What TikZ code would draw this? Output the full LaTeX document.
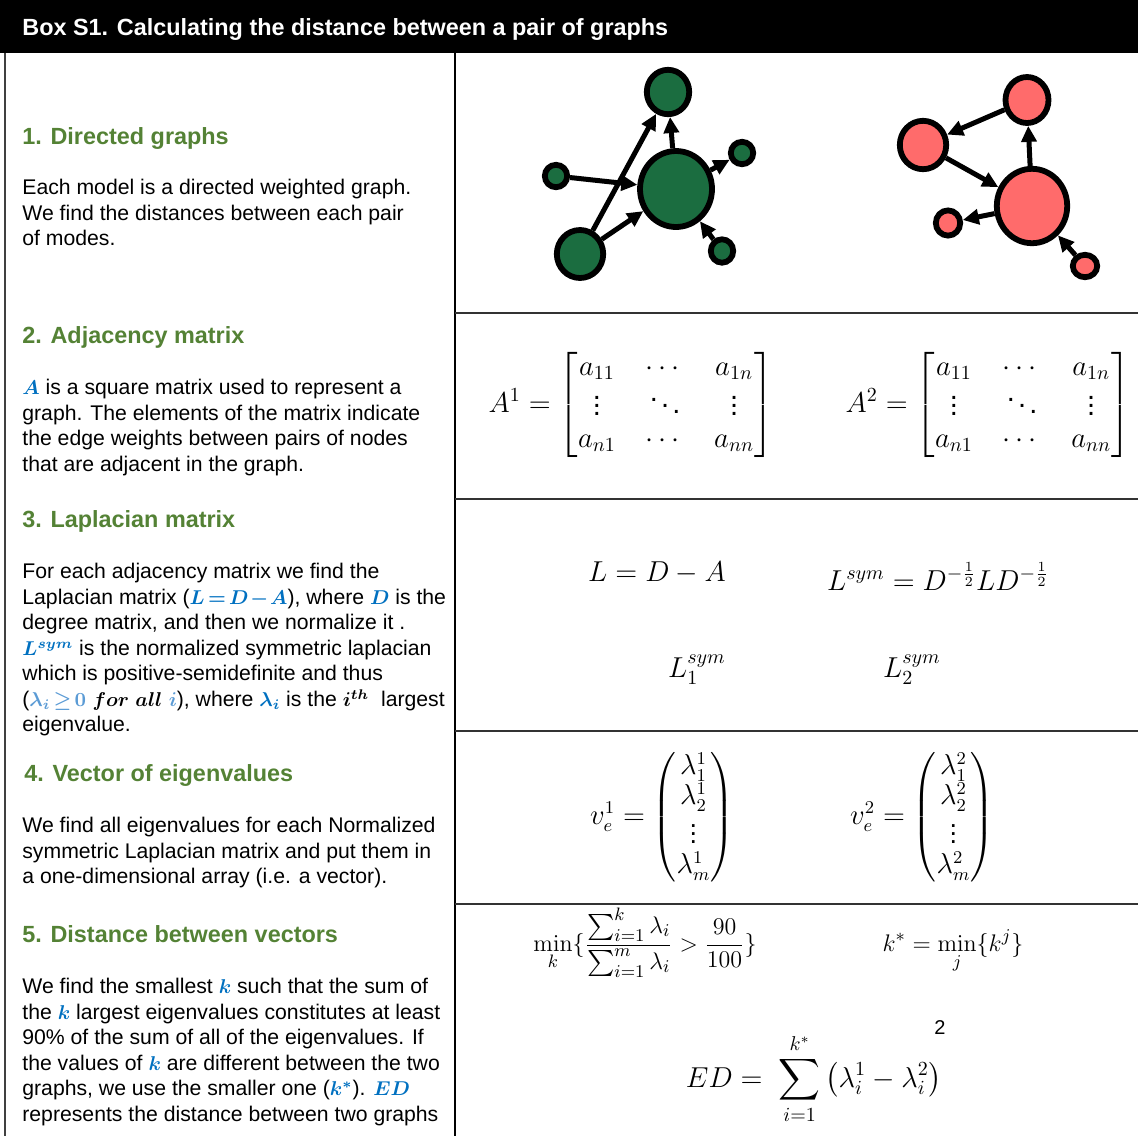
\documentclass[tikz,border=0pt]{standalone}
\usepackage{amsmath,amssymb}
\usepackage[no-math]{fontspec}
\setmainfont{Liberation Sans}
\usepackage{tikz}
\usetikzlibrary{arrows.meta,shapes.geometric}
\definecolor{headcolor}{RGB}{84,130,53}
\definecolor{mathblue}{RGB}{0,112,192}
\definecolor{lightblue}{RGB}{91,155,213}
\definecolor{greennode}{RGB}{27,109,64}
\definecolor{rednode}{RGB}{255,107,107}
\newcommand{\inmath}{\fontsize{9.6}{12}\selectfont\thickmuskip=2.5mu\medmuskip=1.5mu}
\newcommand{\hl}[1]{{\inmath\color{mathblue}$\boldsymbol{#1}$}}

\begin{document}
\begin{tikzpicture}[x=0.5pt, y=-0.5pt,
    head/.style={anchor=base west, inner sep=0pt, font=\fontsize{11.7}{14}\selectfont\bfseries, text=headcolor},
    body/.style={anchor=north west, inner sep=0pt, align=left, font=\fontsize{10.6}{12.75}\selectfont},
    eq/.style={inner sep=0pt, font=\fontsize{14.5}{15.6}\selectfont},
    eqs/.style={inner sep=0pt, font=\fontsize{13}{15.6}\selectfont},
    dims/.style 2 args={minimum width=#1pt, minimum height=#2pt},
    gnode/.style={ellipse, draw=black, line width=2.9pt, fill=greennode, inner sep=0pt},
    rnode/.style={gnode, fill=rednode},
    edge/.style={line width=2.5pt, -{Triangle[length=8pt,width=7.5pt]}},
    rule/.style={line width=1pt, draw=black!80}
  ]
  \useasboundingbox (0,0) rectangle (1138,1136);

  % title bar and frame
  \fill[black] (0,0) rectangle (1138,53);
  \node[anchor=base west, inner sep=0pt, text=white, font=\fontsize{11.7}{14}\selectfont\bfseries] (title) at (22,35)
    {Box S1. Calculating the distance between a pair of graphs};
  \draw[line width=0.8pt, black!75] (5,53) -- (5,1136);
  \draw[line width=1pt] (455,53) -- (455,1136);
  \foreach \y in {313,499,731,904}
    \draw[rule] (455,\y) -- (1138,\y);

  % left column
  \node[head] (h1) at (22,144) {1. Directed graphs};
  \node[body] (t1) at (22,179) {Each model is a directed weighted graph.\\
    We find the distances between each pair\\
    of modes.};

  \node[head] (h2) at (22,343) {2. Adjacency matrix};
  \node[body] (t2) at (22,379) {\hl{A} is a square matrix used to represent a\\
    graph. The elements of the matrix indicate\\
    the edge weights between pairs of nodes\\
    that are adjacent in the graph.};

  \node[head] (h3) at (22,527) {3. Laplacian matrix};
  \node[body] (t3) at (22,563) {For each adjacency matrix we find the\\
    Laplacian matrix (\hl{L=D-A}), where \hl{D} is the\\
    degree matrix, and then we normalize it .\\
    \hl{L^{sym}} is the normalized symmetric laplacian\\
    which is positive-semidefinite and thus\\
    ({\inmath$\boldsymbol{{\color{lightblue}\lambda_i \geq 0}\mskip5mu for\mskip5mu all\mskip5mu{\color{lightblue}i}}$}), where \hl{\lambda_i} is the {\inmath$\boldsymbol{i^{th}}$}\ \ largest\\
    eigenvalue.};

  \node[head] (h4) at (24,781) {4. Vector of eigenvalues};
  \node[body] (t4) at (22,817) {We find all eigenvalues for each Normalized\\
    symmetric Laplacian matrix and put them in\\
    a one-dimensional array (i.e. a vector).};

  \node[head] (h5) at (22,942) {5. Distance between vectors};
  \node[body] (t5) at (22,978) {We find the smallest \hl{k} such that the sum of\\
    the \hl{k} largest eigenvalues constitutes at least\\
    90\% of the sum of all of the eigenvalues. If\\
    the values of \hl{k} are different between the two\\
    graphs, we use the smaller one (\hl{k^*}). \hl{ED}\\
    represents the distance between two graphs};

  % graph 1
  \node[gnode, dims={21.2}{22.2}] (gtop) at (668,92) {};
  \node[gnode, dims={36}{38}] (gbig) at (676,189) {};
  \node[gnode, dims={11.2}{11.2}] (gleft) at (556,176) {};
  \node[gnode, dims={11.2}{11.2}] (gright) at (742,153) {};
  \node[gnode, dims={23.2}{24}] (gbl) at (580,254) {};
  \node[gnode, dims={11.2}{11.7}] (gbr) at (722,251) {};
  \draw[edge] (gleft) -- (gbig);
  \draw[edge] (gbl) -- (gbig);
  \draw[edge] (gbl) -- (gtop);
  \draw[edge] (gbig) -- (gtop);
  \draw[edge] (gbig) -- (gright);
  \draw[edge] (gbr) -- (gbig);

  % graph 2
  \node[rnode, dims={21.5}{23}] (rtop) at (1027,100) {};
  \node[rnode, dims={23.2}{24.2}] (rleft) at (923,145) {};
  \node[rnode, dims={35.2}{37.2}] (rbig) at (1032,206) {};
  \node[rnode, dims={12.2}{12.6}] (rsmall) at (948,223) {};
  \node[rnode, dims={12.2}{11.2}] (rbr) at (1085,266) {};
  \draw[edge] (rtop) -- (rleft);
  \draw[edge] (rleft) -- (rbig);
  \draw[edge] (rbig) -- (rtop);
  \draw[edge] (rbig) -- (rsmall);
  \draw[edge] (rbr) -- (rbig);

  % adjacency matrices
  \node[eq] (adj1) at (631,405) {\setlength{\arraycolsep}{7.5pt}$A^1 = \begin{bmatrix} a_{11} & \cdots & a_{1n}\\ \vdots & \ddots & \vdots\\ a_{n1} & \cdots & a_{nn} \end{bmatrix}$};
  \node[eq] (adj2) at (988,405) {\setlength{\arraycolsep}{7.5pt}$A^2 = \begin{bmatrix} a_{11} & \cdots & a_{1n}\\ \vdots & \ddots & \vdots\\ a_{n1} & \cdots & a_{nn} \end{bmatrix}$};

  % laplacians
  \node[eq, anchor=base] (lap) at (657,581) {$L = D - A$};
  \node[eq, anchor=base] (lsym) at (938,590) {$L^{sym} = D^{-\frac{1}{2}} L D^{-\frac{1}{2}}$};
  \node[eq, anchor=base] (lsym1) at (697,677) {$L_1^{sym}$};
  \node[eq, anchor=base] (lsym2) at (912,677) {$L_2^{sym}$};

  % eigenvalue vectors
  \node[inner sep=0pt, font=\fontsize{13.5}{14}\selectfont] (vec1) at (662,817) {\def\arraystretch{0.95}$v_e^1 = \begin{pmatrix} \lambda_1^1\\ \lambda_2^1\\ \vdots\\ \lambda_m^1 \end{pmatrix}$};
  \node[inner sep=0pt, font=\fontsize{13.5}{14}\selectfont] (vec2) at (922,817) {\def\arraystretch{0.95}$v_e^2 = \begin{pmatrix} \lambda_1^2\\ \lambda_2^2\\ \vdots\\ \lambda_m^2 \end{pmatrix}$};

  % distance
  \node[eqs, anchor=base] (kmin) at (645,951) {$\displaystyle \min_k \{\frac{\textstyle\sum_{i=1}^{k}\lambda_i}{\textstyle\sum_{i=1}^{m}\lambda_i} > \frac{90}{100}\}$};
  \node[eqs, anchor=base] (kstar) at (953,951) {$\displaystyle k^* = \min_j \{k^j\}$};
  \node[eq, anchor=base] (ed) at (814,1087) {$\displaystyle ED = \;\sum_{i=1}^{k^*}\left(\lambda_i^1 - \lambda_i^2\right)$};
  \node[inner sep=0pt, font=\fontsize{10}{12}\selectfont] (sq) at (940,1027) {2};
\end{tikzpicture}
\end{document}
